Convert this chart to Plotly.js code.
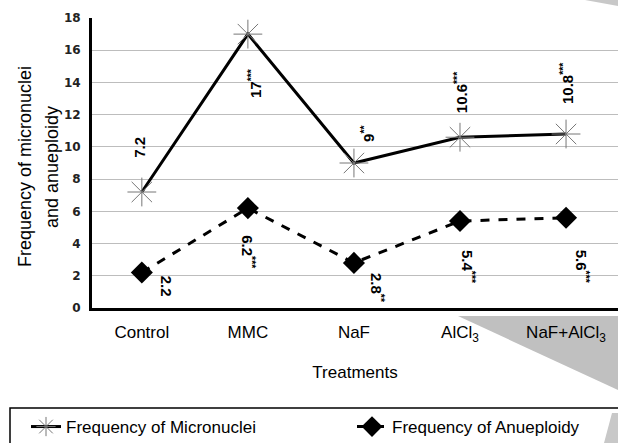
<!DOCTYPE html>
<html>
<head>
<meta charset="utf-8">
<script src="https://cdn.plot.ly/plotly-3.0.1.min.js"></script>
<style>html,body{margin:0;padding:0;background:#fff;}#chart{width:618px;height:443px;}</style>
</head>
<body>
<div id="chart"></div>
<script>
const categories = ["Control", "MMC", "NaF", "AlCl<sub>3</sub>", "NaF+AlCl<sub>3</sub>"];
const micronuclei = [7.2, 17, 9, 10.6, 10.8];
const aneuploidy = [2.2, 6.2, 2.8, 5.4, 5.6];
const micronucleiSig = ["", "***", "**", "***", "***"];
const aneuploidySig = ["", "***", "**", "***", "***"];
const yTicks = [0, 2, 4, 6, 8, 10, 12, 14, 16, 18];
const yTitleLines = ["Frequency of micronuclei", "and anueploidy"];
const xTitle = "Treatments";

// label offsets in pixels (style only)
const mnOffsets = [[-3, 45], [6, -49], [13, 30], [0, 45], [0, 51]];
const anOffsets = [[25, -14], [1, -44], [23, -25], [9, -46], [16, -49]];

const traces = [
  {
    x: categories, y: micronuclei, name: "Frequency of Micronuclei",
    type: "scatter", mode: "lines+markers", legend: "legend",
    line: {color: "#000", width: 3},
    marker: {symbol: "asterisk-open", size: 24, color: "#777", line: {color: "#777", width: 1}}
  },
  {
    x: categories, y: aneuploidy, name: "Frequency of Anueploidy",
    type: "scatter", mode: "lines+markers", legend: "legend2",
    line: {color: "#000", width: 3, dash: "dash"},
    marker: {symbol: "diamond", size: 17, color: "#000"}
  }
];

const W = 526, H = 290, L = 92, T = 18;
function px(x) { return (x - L) / W; }
function py(y) { return (T + H - y) / H; }

const labelFont = {family: "Arial, sans-serif", size: 15, color: "#000", weight: "bold"};
const annotations = [];
micronuclei.forEach((v, i) => {
  annotations.push({
    x: categories[i], y: v, xref: "x", yref: "y",
    text: String(v) + (micronucleiSig[i] ? "<sup>" + micronucleiSig[i] + "</sup>" : ""),
    showarrow: false, textangle: -90,
    xshift: mnOffsets[i][0], yshift: mnOffsets[i][1],
    font: labelFont
  });
});
aneuploidy.forEach((v, i) => {
  annotations.push({
    x: categories[i], y: v, xref: "x", yref: "y",
    text: String(v) + (aneuploidySig[i] ? "<sup>" + aneuploidySig[i] + "</sup>" : ""),
    showarrow: false, textangle: 90,
    xshift: anOffsets[i][0], yshift: anOffsets[i][1],
    font: labelFont
  });
});
const yTitleX = [25, 52];
yTitleLines.forEach((t, i) => {
  annotations.push({
    xref: "paper", yref: "paper", x: px(yTitleX[i]), y: py(167),
    xanchor: "center", yanchor: "middle",
    text: t, showarrow: false, textangle: -90,
    font: {family: "Arial, sans-serif", size: 18, color: "#000"}
  });
});

const shapes = [
  {type: "path", xref: "paper", yref: "paper", layer: "below",
   path: `M ${px(458)} ${py(316)} L ${px(618)} ${py(316)} L ${px(618)} ${py(390)} Z`,
   fillcolor: "#c0c0c0", line: {width: 0}},
  {type: "path", xref: "paper", yref: "paper", layer: "below",
   path: `M ${px(585)} ${py(0)} L ${px(618)} ${py(0)} L ${px(618)} ${py(6)} Z`,
   fillcolor: "#c8c8c8", line: {width: 0}},
  {type: "path", xref: "paper", yref: "paper", layer: "below",
   path: `M ${px(604)} ${py(443)} L ${px(612)} ${py(413)} L ${px(618)} ${py(413)} L ${px(618)} ${py(443)} Z`,
   fillcolor: "#c8c8c8", line: {width: 0}},
  {type: "rect", xref: "paper", yref: "paper", layer: "above",
   x0: px(10), x1: px(640), y0: py(408), y1: py(470),
   line: {color: "#000", width: 1.5}, fillcolor: "rgba(0,0,0,0)"}
];

const legendBase = {
  orientation: "h", xref: "container", yref: "container",
  xanchor: "left", yanchor: "top", y: (443 - 409) / 443,
  borderwidth: 0, bgcolor: "rgba(255,255,255,0)",
  font: {family: "Arial, sans-serif", size: 17, color: "#000"}
};

const layout = {
  width: 618, height: 443,
  margin: {l: L, r: 0, t: T, b: 443 - T - H, autoexpand: false},
  paper_bgcolor: "#fff", plot_bgcolor: "#fff",
  showlegend: true,
  font: {family: "Arial, sans-serif", color: "#000"},
  xaxis: {
    type: "category", range: [-0.47, 4.49],
    showgrid: false, zeroline: false,
    showline: true, linecolor: "#000", linewidth: 3,
    ticks: "", ticklabelstandoff: 7,
    tickfont: {size: 17, color: "#000"},
    title: {text: xTitle, font: {size: 17, color: "#000"}, standoff: 23}
  },
  yaxis: {
    range: [0, 18], tickvals: yTicks, ticktext: yTicks.map(String),
    showgrid: true, gridcolor: "#bdbdbd", gridwidth: 1,
    zeroline: false, showline: true, linecolor: "#000", linewidth: 3,
    ticks: "", ticklabelstandoff: 6,
    tickfont: {size: 12, color: "#222", family: "DejaVu Sans, sans-serif", weight: "bold"}
  },
  legend: Object.assign({}, legendBase, {x: 26 / 618}),
  legend2: Object.assign({}, legendBase, {x: 352 / 618}),
  annotations: annotations,
  shapes: shapes
};

Plotly.newPlot("chart", traces, layout, {displayModeBar: false, staticPlot: true});
</script>
</body>
</html>
